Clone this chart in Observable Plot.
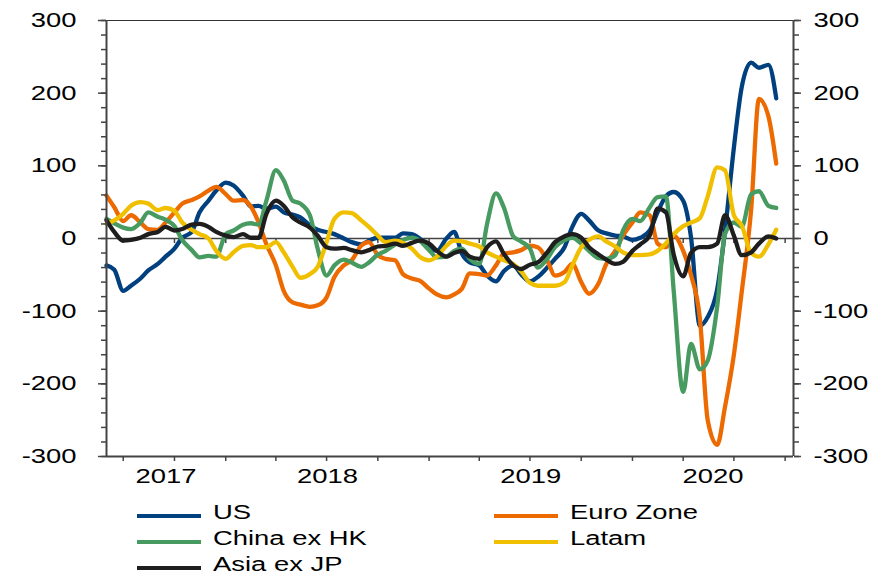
<!DOCTYPE html>
<html><head><meta charset="utf-8">
<script src="https://cdn.jsdelivr.net/npm/d3@7"></script>
<script src="https://cdn.jsdelivr.net/npm/@observablehq/plot@0.6"></script>
<style>
body{margin:0;background:#fff;}
svg{display:block;}
</style></head><body><div id="chart"></div>
<script>
const seriesNames = ["US", "Euro Zone", "China ex HK", "Latam", "Asia ex JP"];
const seriesColors = ["#00407e", "#ec6a00", "#479a60", "#f0c000", "#1e1e1e"];

// semi-monthly observations (1st and 15th), Jun 2017 .. Sep 2020
const us = [-37,-43,-72,-65,-55,-44,-35,-25,-14,1, 9,36,52,66,77,73,59,44,45,41, 44,36,33,29,18,12,9,6,0,-5, -8,-3,1,1,1,7,6,0,-12,-17, 0,9,-21,-33,-37,-51,-59,-45,-37,-49, -59,-53,-40,-28,-12,16,34,25,11,7, 4,3,-2,1,11,36,58,64,52,2, -120,-108,-70,10,125,208,242,235,239,193];
const euro = [59,43,24,32,22,13,12,22,36,48, 53,58,66,71,61,52,53,44,22,-8, -37,-72,-88,-91,-94,-92,-81,-53,-37,-30, -10,-5,-23,-28,-30,-49,-55,-58,-69,-77, -81,-77,-69,-48,-49,-51,-37,-21,-19,-16, -10,-12,-30,-51,-46,-35,-60,-76,-62,-35, -17,4,22,36,32,-7,-12,4,-17,-50, -110,-250,-284,-232,-160,-74,40,192,168,103];
const china = [27,21,15,13,22,36,30,26,17,-2, -16,-26,-24,-25,6,11,19,21,19,52, 94,80,52,48,32,-14,-51,-37,-29,-33, -39,-33,-22,-17,-8,-2,1,-3,-16,-26, -25,-17,-14,-28,-35,20,62,43,3,-4, -14,-40,-28,-12,-2,1,-7,-17,-27,-28, -23,11,27,24,43,57,58,-72,-211,-145, -180,-168,-94,6,22,16,61,65,45,42];
const latam = [20,25,34,45,50,48,39,42,38,22, 12,6,0,-17,-28,-19,-10,-9,-12,-12, -5,-19,-39,-54,-49,-39,-5,27,36,35, 25,16,4,-5,-3,-6,-14,-25,-30,-25, -10,-3,-4,-7,-11,-19,-25,-30,-35,-45, -61,-65,-65,-65,-60,-37,-12,-2,3,-4, -11,-19,-23,-23,-22,-17,-7,6,17,22, 28,58,98,94,32,18,-20,-25,-8,12];
const asia = [25,9,-3,-2,1,6,9,16,11,13, 19,20,16,9,4,2,6,1,1,34, 52,45,29,22,15,4,-12,-14,-13,-16, -19,-16,-11,-10,-7,-10,-6,-3,-7,-17, -25,-20,-17,-25,-28,-12,-4,-21,-37,-42, -36,-33,-19,-5,3,6,1,-12,-22,-29, -35,-32,-17,-8,4,41,36,-22,-52,-20, -12,-12,-7,32,4,-23,-19,-7,3,0];

const yTicks = [-300, -200, -100, 0, 100, 200, 300];
const yearLabels = [2017, 2018, 2019, 2020];

const dates = [];
for (let y = 2017, m = 5; y < 2020 || (y === 2020 && m <= 8);) {
  dates.push(new Date(Date.UTC(y, m, 1)));
  dates.push(new Date(Date.UTC(y, m, 15)));
  m++; if (m === 12) { m = 0; y++; }
}
const xDomain = [new Date(Date.UTC(2017, 5, 1)), new Date(Date.UTC(2020, 9, 16))];
const quarterTicks = d3.utcMonth.every(3).range(new Date(Date.UTC(2017, 6, 1)), xDomain[1]);
const minorY = d3.range(-300, 301, 20);
const yearMids = yearLabels.map(y => {
  const a = Math.max(+xDomain[0], Date.UTC(y, 0, 1));
  const b = Math.min(+xDomain[1], Date.UTC(y + 1, 0, 1));
  return new Date((a + b) / 2);
});

const allSeries = [us, euro, china, latam, asia];
const table = [];
allSeries.forEach((vals, si) => vals.forEach((v, i) => table.push({series: seriesNames[si], date: dates[i], value: v})));

const FONT = "'Liberation Sans', Arial, sans-serif";
const axisGrey = "#444";

const chart = Plot.plot({
  width: 883, height: 490,
  marginLeft: 106, marginRight: 90, marginTop: 20, marginBottom: 34,
  style: {fontFamily: FONT, fontSize: "20px", color: "#000", background: "#fff", overflow: "visible"},
  x: {type: "utc", domain: xDomain, label: null},
  y: {domain: [-300, 300], label: null},
  color: {domain: seriesNames, range: seriesColors},
  marks: [
    Plot.ruleY([0], {stroke: axisGrey, strokeWidth: 1.5}),
    Plot.ruleX(quarterTicks, {x: d => d, y1: 0, y2: -7, stroke: axisGrey, strokeWidth: 1.5}),
    Plot.line(table, {x: "date", y: "value", z: "series", stroke: "series", strokeWidth: 4.3, curve: "monotone-x", strokeLinejoin: "round"}),
    Plot.ruleY([300], {stroke: "#333", strokeWidth: 1}),
    Plot.ruleY([-300], {stroke: axisGrey, strokeWidth: 2}),
    Plot.ruleX(xDomain, {x: d => d, stroke: axisGrey, strokeWidth: 2}),
    Plot.axisY(minorY, {anchor: "left", tickSize: 5, tickFormat: () => "", stroke: axisGrey, strokeWidth: 1.5}),
    Plot.axisY(yTicks, {anchor: "left", tickSize: 8, tickFormat: () => "", stroke: axisGrey, strokeWidth: 1.5}),
    Plot.axisY(yTicks, {anchor: "left", tickSize: 0, tickPadding: 30, tickFormat: d => String(d)}),
    Plot.axisY(minorY, {anchor: "right", tickSize: 5, tickFormat: () => "", stroke: axisGrey, strokeWidth: 1.5}),
    Plot.axisY(yTicks, {anchor: "right", tickSize: 7, tickFormat: () => "", stroke: axisGrey, strokeWidth: 1.5}),
    Plot.axisY(yTicks, {anchor: "right", tickSize: 0, tickPadding: 20, tickFormat: d => String(d)}),
    Plot.axisX(quarterTicks, {anchor: "bottom", tickSize: 5, tickFormat: () => "", stroke: axisGrey, strokeWidth: 1.5}),
    Plot.axisX(yearMids, {anchor: "bottom", tickSize: 0, tickPadding: 12, tickFormat: d => String(d.getUTCFullYear())})
  ]
});
document.getElementById("chart").append(chart);

// legend below the chart
const leg = d3.create("svg").attr("width", 883).attr("height", 84)
  .style("font-family", FONT).style("font-size", "20px");
seriesNames.forEach((name, i) => {
  const col = i % 2, row = Math.floor(i / 2);
  const x0 = col ? 494 : 137;
  const base = 29 + row * 26;
  leg.append("line").attr("x1", x0).attr("x2", x0 + 64).attr("y1", base - 3).attr("y2", base - 3)
    .attr("stroke", seriesColors[i]).attr("stroke-width", 4);
  leg.append("text").attr("x", x0 + 76).attr("y", base).attr("fill", "#000").text(name);
});
document.getElementById("chart").append(leg.node());

// horizontally stretched lettering, as in the reference
const STRETCH = 1.37;
document.querySelectorAll("#chart svg text").forEach(t => {
  const len = t.getComputedTextLength();
  if (len > 0) {
    t.setAttribute("textLength", (len * STRETCH).toFixed(1));
    t.setAttribute("lengthAdjust", "spacingAndGlyphs");
  }
});
</script></body></html>
